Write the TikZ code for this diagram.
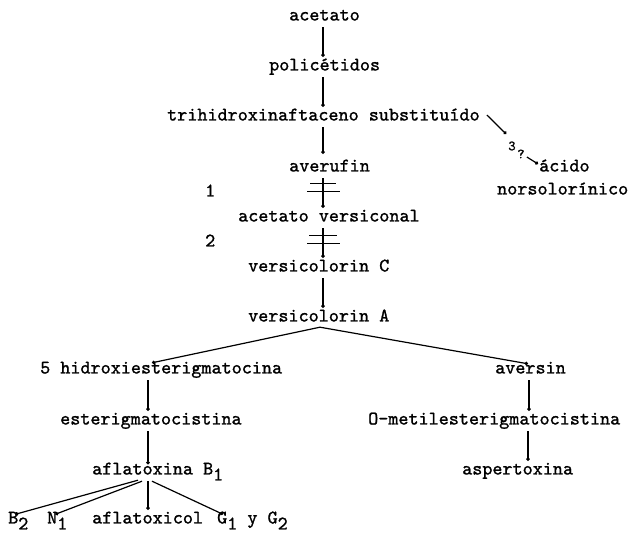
\documentclass[tikz,border=0pt]{standalone}
\usepackage{fontspec}
\newfontfamily\tw{lmmono10-regular.otf}[FakeBold=1.2]
\usetikzlibrary{arrows.meta,calc}
\tikzset{
  txt/.style={font=\tw\fontsize{19.2}{22}\selectfont, inner xsep=0pt, inner ysep=3.5pt,
              text height=10pt, text depth=3pt, anchor=west},
  subtxt/.style={txt, inner ysep=0pt, text depth=8pt},
  small/.style={font=\tw\fontsize{14}{16}\selectfont, inner sep=0pt},
  arr/.style={-{Circle[length=3.4pt]}, line width=1.2pt},
  ln/.style={line width=1.2pt},
}
\newcommand{\subs}[1]{\raisebox{-6pt}{#1}}
\begin{document}
\begin{tikzpicture}[x=1pt,y=-1pt]
\useasboundingbox (0,0) rectangle (630,534);
\coordinate (mx) at (323,0);
\coordinate (ax) at (320,0);
\coordinate (lx) at (148,0);
\coordinate (rx) at (529,0);
% main column
\node[txt] (acetato)   at (289,17)  {acetato};
\node[txt] (policet)   at (269,67)  {policétidos};
\node[txt] (tri)       at (167,117) {trihidroxinaftaceno substituído};
\node[txt] (averufin)  at (289,168) {averufin};
\node[txt] (versicon)  at (238,218) {acetato versiconal};
\node[txt] (vC)        at (248,268) {versicolorin C};
\node[txt] (vA)        at (248,318) {versicolorin A};
\node[txt] (one)       at (205,193) {1};
\node[txt] (two)       at (205,243) {2};
% side branch
\node[small] (n3) at (512,146) {3};
\node[small] (nq) at (521,154) {?};
\node[txt] (acido)     at (539,168) {ácido};
\node[txt] (norsol)    at (497,191) {norsolorínico};
% left branch
\node[txt] (hidroxi)   at (40,370)  {5 hidroxiesterigmatocina};
\node[txt] (esterig)   at (60,421)  {esterigmatocistina};
\node[subtxt] (afla)   at (92,473.5)  {aflatoxina B\subs{1}};
\node[subtxt] (b2)     at (8,522.5)   {B\subs{2}};
\node[subtxt] (n1)     at (47,522.5)  {N\subs{1}};
\node[txt] (afcol)     at (92,520)  {aflatoxicol};
\node[subtxt] (g1g2)   at (217,522.5) {G\subs{1} y G\subs{2}};
% right branch
\node[txt] (aversin)   at (495,370) {aversin};
\node[txt] (ometil)    at (368,421) {O-metilesterigmatocistina};
\node[txt] (aspert)    at (462,471) {aspertoxina};
% connectors main column
\draw[arr] (acetato.south -| mx) -- (policet.north -| mx);
\draw[arr] (policet.south -| mx) -- (tri.north -| mx);
\draw[arr] (tri.south -| mx) -- ($(averufin.north -| mx)+(0,-4)$);
\draw[arr] (averufin.south -| mx) -- (versicon.north -| mx);
\draw[ln] ($(averufin.south -| mx)+(-13,5)$) -- +(26,0);
\draw[ln] ($(averufin.south -| mx)+(-16,13)$) -- +(33,0);
\draw[arr] (versicon.south -| mx) -- (vC.north -| mx);
\draw[ln] ($(versicon.south -| mx)+(-14,7)$) -- +(28,0);
\draw[ln] ($(versicon.south -| mx)+(-16,15)$) -- +(33,0);
\draw[arr] (vC.south -| mx) -- (vA.north -| mx);
% side branch
\draw[arr] ($(tri.east)+(7,-2)$) -- ($(n3.west)+(-2,-12)$);
\draw[arr] ($(nq.east)+(2,3)$) -- ($(acido.west)+(-1,-4)$);
% split
\draw[arr] ($(vA.south -| ax)+(0,-1)$) -- ($(hidroxi.north -| lx)+(4,3)$);
\draw[arr] ($(vA.south -| ax)+(0,-1)$) -- ($(aversin.north -| rx)+(-1,4)$);
% left branch
\draw[arr] (hidroxi.south -| lx) -- (esterig.north -| lx);
\draw[arr] (esterig.south -| lx) -- (afla.north -| lx);
\draw[arr] ($(afla.south -| lx)+(-10,-2.5)$) -- ($(b2.north -| b2.center)+(-3,1)$);
\draw[arr] ($(afla.south -| lx)+(-6,-1.5)$) -- ($(n1.north -| n1.center)+(-2,1)$);
\draw[arr] ($(afla.south -| lx)+(0,-1.5)$) -- (afcol.north -| lx);
\draw[arr] ($(afla.south -| lx)+(4,-1.5)$) -- ($(g1g2.north west)+(6,1)$);
% right branch
\draw[arr] (aversin.south -| rx) -- (ometil.north -| rx);
\draw[arr] ($(ometil.south -| rx)+(-1,0)$) -- ($(aspert.north -| rx)+(-1,0)$);
\end{tikzpicture}
\end{document}
